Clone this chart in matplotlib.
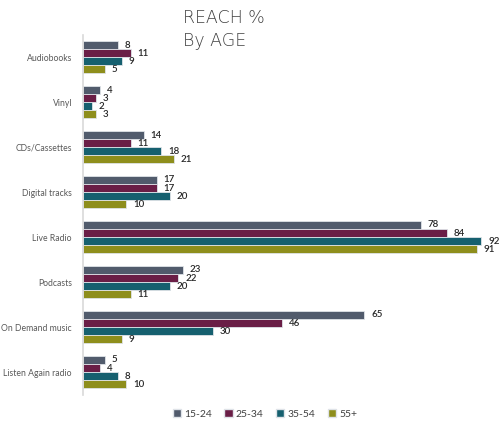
import numpy as np
import matplotlib.pyplot as plt
from matplotlib.patches import Patch

categories = ['Audiobooks', 'Vinyl', 'CDs/Cassettes', 'Digital tracks',
              'Live Radio', 'Podcasts', 'On Demand music', 'Listen Again radio']
age_groups = ['15-24', '25-34', '35-54', '55+']
reach_15_24 = [8, 4, 14, 17, 78, 23, 65, 5]
reach_25_34 = [11, 3, 11, 17, 84, 22, 46, 4]
reach_35_54 = [9, 2, 18, 20, 92, 20, 30, 8]
reach_55_plus = [5, 3, 21, 10, 91, 11, 9, 10]
series = [reach_15_24, reach_25_34, reach_35_54, reach_55_plus]
colors = ['#515B6C', '#6A1E46', '#16606F', '#8E8E1C']

plt.rcParams['font.family'] = ['Lato', 'DejaVu Sans']

fig = plt.figure(figsize=(5, 4.28), dpi=100)
ax = fig.add_axes([0.166, 0.078, 0.831, 0.841])

y = np.arange(len(categories))
h = 0.18
for i, (vals, c) in enumerate(zip(series, colors)):
    pos = y + (i - 1.5) * h
    ax.barh(pos, vals, height=h, color=c, edgecolor='#dfe3e8', linewidth=0.6)
    for p, v in zip(pos, vals):
        ax.text(v + 1.6, p, str(v), va='center', ha='left', fontsize=7,
                color='#262626', fontweight='semibold')

ax.set_xlim(0, 96)
ax.set_ylim(7.5, -0.5)
ax.set_yticks(y)
ax.set_yticklabels(categories, fontsize=6.2, color='#595959')
ax.tick_params(axis='y', length=0, pad=8)
ax.set_xticks([])
for s in ['top', 'right', 'bottom']:
    ax.spines[s].set_visible(False)
ax.spines['left'].set_color('#d9d9d9')
ax.spines['left'].set_linewidth(1.2)

fig.text(0.366, 0.978, 'REACH %\nBy AGE', ha='left', va='top', fontsize=12.5,
         color='#404040', linespacing=1.3, family=['DejaVu Sans'], fontweight='light')

handles = [Patch(facecolor=c, edgecolor='#dfe3e8', label=g) for c, g in zip(colors, age_groups)]
fig.legend(handles=handles, loc='center', bbox_to_anchor=(0.53, 0.033), ncol=4,
           frameon=False, fontsize=7.5, handlelength=0.8, handleheight=0.8,
           handletextpad=0.3, columnspacing=1.2, labelcolor='#404040')

fig.savefig('out.png', dpi=100)
